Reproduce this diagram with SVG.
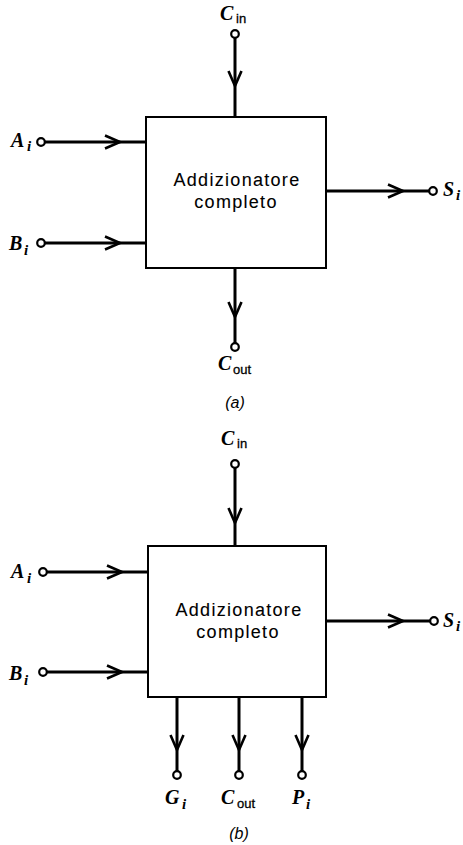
<svg xmlns="http://www.w3.org/2000/svg" width="463" height="845" viewBox="0 0 463 845">
  <style>
    .box { fill: #fff; stroke: #000; stroke-width: 2; }
    .wire { fill: none; stroke: #000; stroke-width: 3; }
    .pin { fill: #fff; stroke: #000; stroke-width: 2.2; }
    .head { fill: none; stroke: #000; stroke-width: 2.6; stroke-linejoin: miter; }
    .title { font-family: "Liberation Sans", Arial, sans-serif; font-size: 18px; letter-spacing: 1.3px; text-anchor: middle; fill: #000; stroke: #000; stroke-width: 0.1; }
    .sym { font-family: "Liberation Serif", "Times New Roman", serif; font-style: italic; font-weight: bold; font-size: 20px; fill: #000; }
    .sub { font-family: "Liberation Serif", "Times New Roman", serif; font-style: italic; font-weight: bold; font-size: 15px; fill: #000; }
    .subs { font-family: "Liberation Sans", Arial, sans-serif; font-size: 13px; fill: #000; stroke: #000; stroke-width: 0.3; }
    .cap { font-family: "Liberation Sans", Arial, sans-serif; font-style: italic; font-size: 16px; text-anchor: middle; fill: #000; }
  </style>
  <defs>
    <!-- chevron pointing right, tip at origin -->
    <path id="chev" class="head" d="M -15 -6.5 L 0 0 L -15 6.5"/>
  </defs>

  <!-- (a) -->
  <g id="adder-a">
    <rect class="box" x="146" y="117" width="180" height="151"/>
    <text class="title" x="237" y="186">Addizionatore</text>
    <text class="title" x="236" y="208">completo</text>
  </g>
  <g id="connectors-a">
    <line class="wire" x1="235" y1="38" x2="235" y2="117"/>
    <use href="#chev" transform="translate(235,86) rotate(90)"/>
    <line class="wire" x1="45" y1="142" x2="146" y2="142"/>
    <use href="#chev" transform="translate(120,142)"/>
    <line class="wire" x1="45" y1="243" x2="146" y2="243"/>
    <use href="#chev" transform="translate(120,243)"/>
    <line class="wire" x1="326" y1="191" x2="429" y2="191"/>
    <use href="#chev" transform="translate(403,191)"/>
    <line class="wire" x1="235" y1="268" x2="235" y2="343"/>
    <use href="#chev" transform="translate(235,317) rotate(90)"/>
  </g>
  <g id="pins-a">
    <g id="a-cin"><circle class="pin" cx="235" cy="34" r="3.8"/>
      <text class="sym" x="220" y="20">C</text><text class="subs" x="236" y="23">in</text></g>
    <g id="a-ai"><circle class="pin" cx="41" cy="142" r="3.8"/>
      <text class="sym" x="11" y="147">A</text><text class="sub" x="27" y="151">i</text></g>
    <g id="a-bi"><circle class="pin" cx="41" cy="243" r="3.8"/>
      <text class="sym" x="9" y="250">B</text><text class="sub" x="24" y="255">i</text></g>
    <g id="a-si"><circle class="pin" cx="433" cy="191" r="3.8"/>
      <text class="sym" x="443" y="196">S</text><text class="sub" x="456" y="200">i</text></g>
    <g id="a-cout"><circle class="pin" cx="235" cy="347" r="3.8"/>
      <text class="sym" x="218" y="370">C</text><text class="subs" x="233" y="374">out</text></g>
    <text class="cap" x="235" y="408">(a)</text>
  </g>

  <!-- (b) -->
  <g id="adder-b">
    <rect class="box" x="148" y="546" width="178" height="151"/>
    <text class="title" x="239" y="616">Addizionatore</text>
    <text class="title" x="238" y="638">completo</text>
  </g>
  <g id="connectors-b">
    <line class="wire" x1="235" y1="468" x2="235" y2="546"/>
    <use href="#chev" transform="translate(235,523) rotate(90)"/>
    <line class="wire" x1="47" y1="572" x2="148" y2="572"/>
    <use href="#chev" transform="translate(122,572)"/>
    <line class="wire" x1="47" y1="672" x2="148" y2="672"/>
    <use href="#chev" transform="translate(122,672)"/>
    <line class="wire" x1="326" y1="621" x2="430" y2="621"/>
    <use href="#chev" transform="translate(403,621)"/>
    <line class="wire" x1="177" y1="697" x2="177" y2="771"/>
    <use href="#chev" transform="translate(177,750) rotate(90)"/>
    <line class="wire" x1="239" y1="697" x2="239" y2="771"/>
    <use href="#chev" transform="translate(239,750) rotate(90)"/>
    <line class="wire" x1="302" y1="697" x2="302" y2="771"/>
    <use href="#chev" transform="translate(302,750) rotate(90)"/>
  </g>
  <g id="pins-b">
    <g id="b-cin"><circle class="pin" cx="235" cy="464" r="3.8"/>
      <text class="sym" x="221" y="445">C</text><text class="subs" x="237" y="448">in</text></g>
    <g id="b-ai"><circle class="pin" cx="43" cy="572" r="3.8"/>
      <text class="sym" x="11" y="578">A</text><text class="sub" x="27" y="583">i</text></g>
    <g id="b-bi"><circle class="pin" cx="43" cy="672" r="3.8"/>
      <text class="sym" x="9" y="680">B</text><text class="sub" x="24" y="685">i</text></g>
    <g id="b-si"><circle class="pin" cx="434" cy="621" r="3.8"/>
      <text class="sym" x="443" y="627">S</text><text class="sub" x="456" y="631">i</text></g>
    <g id="b-gi"><circle class="pin" cx="177" cy="775" r="3.8"/>
      <text class="sym" x="165" y="804">G</text><text class="sub" x="182" y="809">i</text></g>
    <g id="b-cout"><circle class="pin" cx="239" cy="775" r="3.8"/>
      <text class="sym" x="221" y="804">C</text><text class="subs" x="237" y="808">out</text></g>
    <g id="b-pi"><circle class="pin" cx="302" cy="775" r="3.8"/>
      <text class="sym" x="292" y="804">P</text><text class="sub" x="306" y="809">i</text></g>
    <text class="cap" x="239" y="839">(b)</text>
  </g>
</svg>
